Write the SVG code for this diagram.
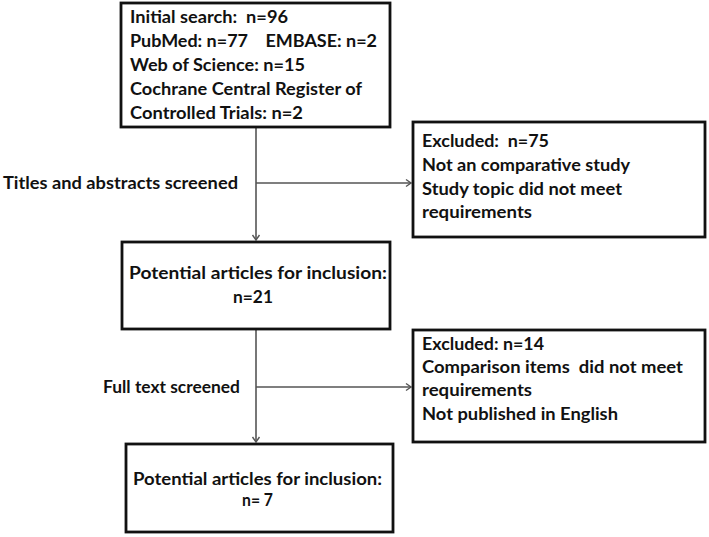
<svg xmlns="http://www.w3.org/2000/svg" width="709" height="537" viewBox="0 0 709 537">
<defs>
<style>
.box{fill:#fff;stroke:#111;stroke-width:2.8}
.t{font-family:Lato,"Liberation Sans",sans-serif;font-weight:bold;font-size:16.5px;fill:#111}
.c{stroke:#555;stroke-width:1.6;fill:none}
</style>
<marker id="ah" markerWidth="10" markerHeight="10" refX="7" refY="5" orient="auto" markerUnits="userSpaceOnUse">
<path d="M2,1.5 L7,5 L2,8.5" fill="none" stroke="#555" stroke-width="1.4"/>
</marker>
</defs>
<rect width="709" height="537" fill="#fff"/>
<g id="connectors">
<line class="c" x1="256" y1="128" x2="256" y2="240" marker-end="url(#ah)"/>
<line class="c" x1="256" y1="183" x2="411" y2="183" marker-end="url(#ah)"/>
<line class="c" x1="256" y1="330" x2="256" y2="442" marker-end="url(#ah)"/>
<line class="c" x1="256" y1="387" x2="411" y2="387" marker-end="url(#ah)"/>
</g>
<g id="label1"><text class="t" x="3" y="189" textLength="235" lengthAdjust="spacingAndGlyphs">Titles and abstracts screened</text></g>
<g id="label2"><text class="t" x="103" y="393" textLength="137" lengthAdjust="spacingAndGlyphs">Full text screened</text></g>
<g id="search">
<rect class="box" x="121" y="3" width="269" height="124"/>
<text class="t" x="130" y="23" textLength="158" lengthAdjust="spacingAndGlyphs" xml:space="preserve">Initial search:  n=96</text>
<text class="t" x="130" y="47" textLength="247" lengthAdjust="spacingAndGlyphs" xml:space="preserve">PubMed: n=77    EMBASE: n=2</text>
<text class="t" x="130" y="71" textLength="175" lengthAdjust="spacingAndGlyphs">Web of Science: n=15</text>
<text class="t" x="130" y="95" textLength="232" lengthAdjust="spacingAndGlyphs">Cochrane Central Register of</text>
<text class="t" x="130" y="119" textLength="173" lengthAdjust="spacingAndGlyphs">Controlled Trials: n=2</text>
</g>
<g id="excluded1">
<rect class="box" x="413" y="122" width="292" height="115"/>
<text class="t" x="422" y="147" textLength="127" lengthAdjust="spacingAndGlyphs" xml:space="preserve">Excluded:  n=75</text>
<text class="t" x="422" y="171" textLength="208" lengthAdjust="spacingAndGlyphs">Not an comparative study</text>
<text class="t" x="422" y="195" textLength="200" lengthAdjust="spacingAndGlyphs">Study topic did not meet</text>
<text class="t" x="422" y="218" textLength="110" lengthAdjust="spacingAndGlyphs">requirements</text>
</g>
<g id="potential1">
<rect class="box" x="122" y="242" width="268" height="87"/>
<text class="t" x="129" y="279" textLength="258" lengthAdjust="spacingAndGlyphs">Potential articles for inclusion:</text>
<text class="t" x="233" y="303" textLength="40" lengthAdjust="spacingAndGlyphs">n=21</text>
</g>
<g id="excluded2">
<rect class="box" x="413" y="330" width="292" height="112"/>
<text class="t" x="422" y="350" textLength="122" lengthAdjust="spacingAndGlyphs">Excluded: n=14</text>
<text class="t" x="422" y="373" textLength="261" lengthAdjust="spacingAndGlyphs" xml:space="preserve">Comparison items  did not meet</text>
<text class="t" x="422" y="396" textLength="110" lengthAdjust="spacingAndGlyphs">requirements</text>
<text class="t" x="422" y="420" textLength="196" lengthAdjust="spacingAndGlyphs">Not published in English</text>
</g>
<g id="potential2">
<rect class="box" x="126" y="444" width="267" height="88"/>
<text class="t" x="133" y="485" textLength="249" lengthAdjust="spacingAndGlyphs">Potential articles for inclusion:</text>
<text class="t" x="242" y="506" textLength="31" lengthAdjust="spacingAndGlyphs" xml:space="preserve">n= 7</text>
</g>
</svg>
